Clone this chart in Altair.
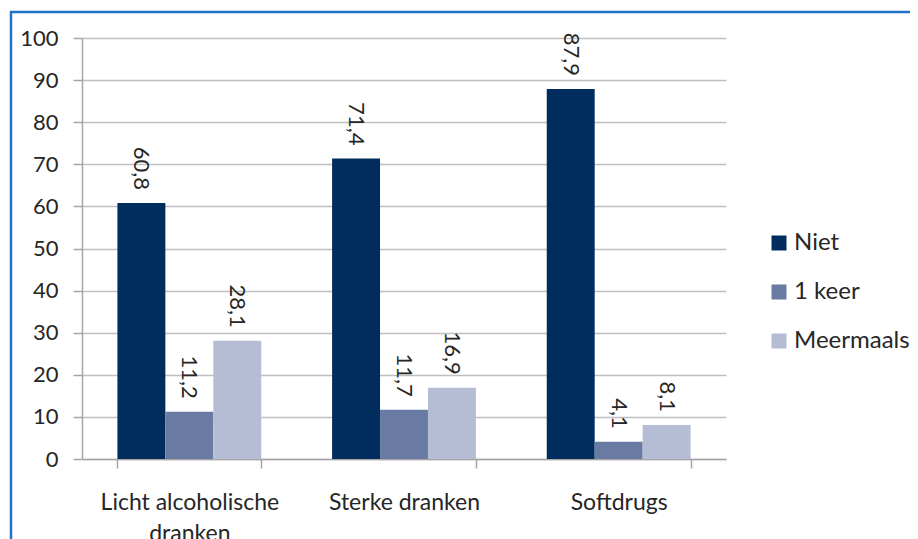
import altair as alt
import pandas as pd

categories = ["Licht alcoholische dranken", "Sterke dranken", "Softdrugs"]
series = ["Niet", "1 keer", "Meermaals"]
niet = [60.8, 71.4, 87.9]
een_keer = [11.2, 11.7, 4.1]
meermaals = [28.1, 16.9, 8.1]
colors = ["#002d5e", "#6a7ba3", "#b4bdd4"]
y_ticks = [0, 10, 20, 30, 40, 50, 60, 70, 80, 90, 100]

rows = []
for i, c in enumerate(categories):
    for s, vals in zip(series, [niet, een_keer, meermaals]):
        rows.append({"cat": c, "serie": s, "v": vals[i]})
df = pd.DataFrame(rows)

FONT = "Lato"
TXT = "#262626"
FS = 22

x_enc = alt.X("cat:N", sort=categories,
              scale=alt.Scale(paddingInner=0.33, paddingOuter=0.165),
              axis=alt.Axis(title=None, labelAngle=0, tickBand="extent", grid=False,
                            domainColor="#a6a6a6", domainWidth=1.5, tickColor="#a6a6a6",
                            tickWidth=1.5, tickSize=9, labelFontSize=23, labelFont=FONT,
                            labelColor=TXT, labelPadding=23, labelLineHeight=31,
                            labelExpr="datum.value == 'Licht alcoholische dranken' ? ['Licht alcoholische', 'dranken'] : datum.value"))

base = alt.Chart(df).encode(
    x=x_enc,
    xOffset=alt.XOffset("serie:N", sort=series),
)

bars = base.mark_bar().encode(
    y=alt.Y("v:Q", scale=alt.Scale(domain=[0, 100], nice=False),
            axis=alt.Axis(title=None, values=y_ticks, grid=True, gridColor="#bfbfbf",
                          gridWidth=1.5, domainColor="#a6a6a6", domainWidth=1.5,
                          tickColor="#a6a6a6", tickWidth=1.5, tickSize=9,
                          labelFontSize=FS, labelFont=FONT, labelColor=TXT, labelPadding=15)),
    color=alt.Color("serie:N", sort=series,
                    scale=alt.Scale(domain=series, range=colors),
                    legend=alt.Legend(title=None, orient="none", legendX=685, legendY=193,
                                      symbolType="square", symbolSize=225, symbolStrokeWidth=0,
                                      labelFontSize=24, labelFont=FONT, labelColor=TXT,
                                      rowPadding=25, labelOffset=3)),
)

labels = base.mark_text(angle=90, align="right", baseline="middle", dx=-13,
                        fontSize=FS, font=FONT, color=TXT).transform_calculate(
    lab="replace(format(datum.v, '.1f'), '.', ',')"
).encode(
    y=alt.Y("v:Q"),
    text="lab:N",
)

frame_df = pd.DataFrame({"k": [0]})
frame = alt.Chart(frame_df).mark_rect(fill=None, stroke="#1f72c4", strokeWidth=2.5).encode(
    x=alt.value(-71), x2=alt.value(1000), y=alt.value(-26), y2=alt.value(800)
)

chart = alt.layer(frame, bars, labels).properties(
    width=644, height=421,
    autosize=alt.AutoSizeParams(type="none"),
    padding={"left": 74, "top": 30, "right": 184, "bottom": 100},
).configure_view(stroke=None)

chart.save("out.html", embed_options={"renderer": "svg", "actions": False})
